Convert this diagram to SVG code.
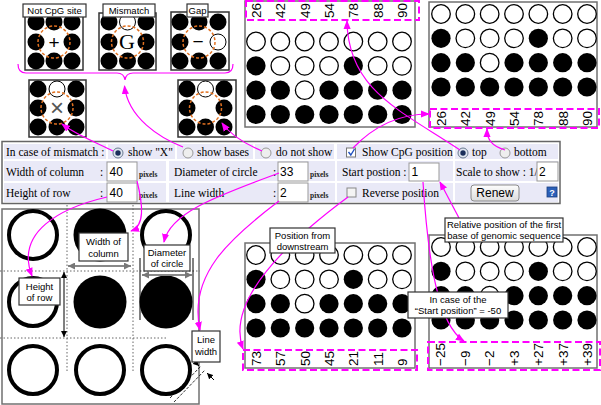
<svg xmlns="http://www.w3.org/2000/svg" width="601" height="405" viewBox="0 0 601 405">
<style>
.o{fill:#fff;stroke:#000;stroke-width:1.3}
.b{fill:#000}
.mo{fill:#fff;stroke:#000;stroke-width:1}
.frame{fill:#fff;stroke:#707070;stroke-width:1.5}
.num{font-family:"Liberation Sans",Arial,sans-serif;font-size:13.5px;fill:#000}
.dash{fill:none;stroke:#f0f;stroke-width:2;stroke-dasharray:7 3.5}
.mg{fill:none;stroke:#f0f;stroke-width:1.2}
.cb{fill:#fff;stroke:#333;stroke-width:1.2}
.ct{font-family:"Liberation Sans",Arial,sans-serif;font-size:9.5px;fill:#000;text-anchor:middle}
.mini{fill:#fff;stroke:#333;stroke-width:1.5}
.org{fill:none;stroke:#e07020;stroke-width:1.5;stroke-dasharray:3 2}
.cell{fill:#e9e9f7}
.pf{font-family:"Liberation Serif","Times New Roman",serif;font-size:11.5px;fill:#000}
.px{font-family:"Liberation Serif","Times New Roman",serif;font-size:7.5px;font-weight:bold;fill:#222}
.inp{fill:#fff;stroke:#999;stroke-width:1}
.iv{font-family:"Liberation Sans",Arial,sans-serif;font-size:12px;fill:#000}
.big{fill:#fff;stroke:#000;stroke-width:4}
.dot{stroke:#666;stroke-width:1;stroke-dasharray:1.5 2;fill:none}
.rad{fill:#eee;stroke:#999;stroke-width:1}
.rads{fill:#dfe6f0;stroke:#6a7a90;stroke-width:1}
</style>
<defs>
<marker id="ma" viewBox="0 0 10 10" refX="9" refY="5" markerWidth="9" markerHeight="9" markerUnits="userSpaceOnUse" orient="auto"><path d="M0,1 L10,5 L0,9 z" fill="#f0f"/></marker>
<marker id="ga" viewBox="0 0 10 10" refX="10" refY="5" markerWidth="7" markerHeight="7" markerUnits="userSpaceOnUse" orient="auto-start-reverse"><path d="M0,0 L10,5 L0,10 z" fill="#777"/></marker>
<marker id="ka" viewBox="0 0 10 10" refX="10" refY="5" markerWidth="6" markerHeight="6" markerUnits="userSpaceOnUse" orient="auto-start-reverse"><path d="M0,0 L10,5 L0,10 z" fill="#000"/></marker>
<linearGradient id="btn" x1="0" y1="0" x2="0" y2="1"><stop offset="0" stop-color="#fdfdfd"/><stop offset="1" stop-color="#dcdcdc"/></linearGradient>
<g id="pat">
<circle class="o" cx="0" cy="0" r="9.3"/><circle class="o" cx="24.33" cy="0" r="9.3"/><circle class="o" cx="48.67" cy="0" r="9.3"/><circle class="o" cx="73" cy="0" r="9.3"/><circle class="o" cx="97.33" cy="0" r="9.3"/><circle class="o" cx="121.67" cy="0" r="9.3"/><circle class="o" cx="146" cy="0" r="9.3"/>
<circle class="b" cx="0" cy="24.33" r="9.6"/><circle class="o" cx="24.33" cy="24.33" r="9.3"/><circle class="o" cx="48.67" cy="24.33" r="9.3"/><circle class="o" cx="73" cy="24.33" r="9.3"/><circle class="b" cx="97.33" cy="24.33" r="9.6"/><circle class="o" cx="121.67" cy="24.33" r="9.3"/><circle class="o" cx="146" cy="24.33" r="9.3"/>
<circle class="b" cx="0" cy="48.67" r="9.6"/><circle class="b" cx="24.33" cy="48.67" r="9.6"/><circle class="o" cx="48.67" cy="48.67" r="9.3"/><circle class="b" cx="73" cy="48.67" r="9.6"/><circle class="b" cx="97.33" cy="48.67" r="9.6"/><circle class="b" cx="121.67" cy="48.67" r="9.6"/><circle class="b" cx="146" cy="48.67" r="9.6"/>
<circle class="b" cx="0" cy="73" r="9.6"/><circle class="b" cx="24.33" cy="73" r="9.6"/><circle class="b" cx="48.67" cy="73" r="9.6"/><circle class="b" cx="73" cy="73" r="9.6"/><circle class="b" cx="97.33" cy="73" r="9.6"/><circle class="b" cx="121.67" cy="73" r="9.6"/><circle class="b" cx="146" cy="73" r="9.6"/>
</g>
</defs>

<!-- top-left examples -->
<g id="not-cpg">
<rect class="mini" x="25" y="12" width="58" height="58"/>
<circle class="b" cx="36" cy="22" r="8.5"/><circle class="b" cx="54" cy="22" r="8.5"/><circle class="b" cx="72" cy="22" r="8.5"/>
<circle class="b" cx="36" cy="42" r="8.5"/><circle class="b" cx="72" cy="42" r="8.5"/>
<circle class="b" cx="36" cy="61" r="8.5"/><circle class="b" cx="54" cy="61" r="8.5"/><circle class="b" cx="72" cy="61" r="8.5"/>
<circle class="org" cx="54" cy="42" r="16"/>
<text x="54" y="48.5" font-family="Liberation Sans, Arial, sans-serif" font-size="19" text-anchor="middle">+</text>
<rect class="cb" x="23" y="4" width="63" height="13"/><text class="ct" x="54.5" y="14">Not CpG site</text>
</g>
<g id="mismatch">
<rect class="mini" x="99" y="13" width="57" height="57"/>
<circle class="b" cx="109" cy="22" r="8.5"/><circle class="mo" cx="127.5" cy="22" r="8"/><circle class="b" cx="146" cy="22" r="8.5"/>
<circle class="b" cx="109" cy="42" r="8.5"/><circle class="b" cx="146" cy="42" r="8.5"/>
<circle class="b" cx="109" cy="61" r="8.5"/><circle class="b" cx="127.5" cy="61" r="8.5"/><circle class="b" cx="146" cy="61" r="8.5"/>
<circle class="org" cx="127.5" cy="42" r="16"/>
<text x="127" y="49" font-family="Liberation Serif, serif" font-size="22" text-anchor="middle">G</text>
<rect class="cb" x="103" y="4" width="52" height="13"/><text class="ct" x="129" y="14">Mismatch</text>
</g>
<g id="gap">
<rect class="mini" x="171" y="12" width="58" height="58"/>
<circle class="b" cx="180" cy="22" r="8.5"/><circle class="b" cx="199" cy="22" r="8.5"/><circle class="b" cx="218" cy="22" r="8.5"/>
<circle class="b" cx="180" cy="42" r="8.5"/><circle class="mo" cx="218" cy="42" r="8"/>
<circle class="b" cx="180" cy="61" r="8.5"/><circle class="b" cx="199" cy="61" r="8.5"/><circle class="b" cx="218" cy="61" r="8.5"/>
<circle class="org" cx="199" cy="42" r="16"/>
<text x="198" y="48" font-family="Liberation Sans, Arial, sans-serif" font-size="19" text-anchor="middle">−</text>
<rect class="cb" x="187" y="4" width="21" height="13"/><text class="ct" x="197.5" y="14">Gap</text>
</g>
<g id="show-x">
<rect class="mini" x="29" y="80" width="57" height="57"/>
<circle class="b" cx="38" cy="89" r="8.5"/><circle class="mo" cx="57" cy="89" r="8"/><circle class="b" cx="76" cy="89" r="8.5"/>
<circle class="b" cx="38" cy="108" r="8.5"/><circle class="b" cx="76" cy="108" r="8.5"/>
<circle class="b" cx="38" cy="127" r="8.5"/><circle class="b" cx="57" cy="127" r="8.5"/><circle class="b" cx="76" cy="127" r="8.5"/>
<circle class="org" cx="57" cy="108" r="16"/>
<text x="57" y="116" font-family="Liberation Sans, Arial, sans-serif" font-size="24" fill="#555" text-anchor="middle">×</text>
</g>
<g id="no-show">
<rect class="mini" x="178" y="80" width="58" height="57"/>
<circle class="b" cx="187" cy="89" r="8.5"/><circle class="mo" cx="205.5" cy="89" r="8"/><circle class="b" cx="224" cy="89" r="8.5"/>
<circle class="b" cx="187" cy="108" r="8.5"/><circle class="b" cx="224" cy="108" r="8.5"/>
<circle class="b" cx="187" cy="127" r="8.5"/><circle class="b" cx="205.5" cy="127" r="8.5"/><circle class="b" cx="224" cy="127" r="8.5"/>
<circle class="org" cx="205.5" cy="108" r="16"/>
</g>

<!-- top middle: numbers on top -->
<g id="panel-top">
<rect class="frame" x="245" y="1" width="170" height="126"/>
<use href="#pat" x="256" y="41.5"/>
<text class="num" transform="translate(261,18) rotate(-90)">26</text>
<text class="num" transform="translate(285,18) rotate(-90)">42</text>
<text class="num" transform="translate(310,18) rotate(-90)">49</text>
<text class="num" transform="translate(334,18) rotate(-90)">54</text>
<text class="num" transform="translate(358,18) rotate(-90)">78</text>
<text class="num" transform="translate(383,18) rotate(-90)">88</text>
<text class="num" transform="translate(407,18) rotate(-90)">90</text>
<rect class="dash" x="246" y="1" width="173" height="19"/>
</g>
<!-- top right: numbers at bottom -->
<g id="panel-bottom">
<rect class="frame" x="429" y="2" width="168" height="125"/>
<use href="#pat" x="441" y="14"/>
<text class="num" transform="translate(446,126) rotate(-90)">26</text>
<text class="num" transform="translate(470,126) rotate(-90)">42</text>
<text class="num" transform="translate(495,126) rotate(-90)">49</text>
<text class="num" transform="translate(519,126) rotate(-90)">54</text>
<text class="num" transform="translate(543,126) rotate(-90)">78</text>
<text class="num" transform="translate(568,126) rotate(-90)">88</text>
<text class="num" transform="translate(592,126) rotate(-90)">90</text>
<rect class="dash" x="430" y="109" width="169" height="19"/>
</g>
<!-- bottom middle: reverse -->
<g id="panel-reverse">
<rect class="frame" x="245" y="243" width="170" height="125"/>
<use href="#pat" x="256" y="255"/>
<text class="num" transform="translate(261,366) rotate(-90)">73</text>
<text class="num" transform="translate(285,366) rotate(-90)">57</text>
<text class="num" transform="translate(310,366) rotate(-90)">50</text>
<text class="num" transform="translate(334,366) rotate(-90)">45</text>
<text class="num" transform="translate(358,366) rotate(-90)">21</text>
<text class="num" transform="translate(383,366) rotate(-90)">11</text>
<text class="num" transform="translate(407,366) rotate(-90)">9</text>
<rect class="dash" x="243" y="350" width="174" height="20"/>
</g>
<!-- bottom right: start -50 -->
<g id="panel-start">
<rect class="frame" x="429" y="235" width="168" height="133"/>
<use href="#pat" x="441" y="247"/>
<text class="num" transform="translate(445,366) rotate(-90)">−25</text>
<text class="num" transform="translate(470,366) rotate(-90)">−9</text>
<text class="num" transform="translate(494,366) rotate(-90)">−2</text>
<text class="num" transform="translate(519,366) rotate(-90)">+3</text>
<text class="num" transform="translate(543,366) rotate(-90)">+27</text>
<text class="num" transform="translate(568,366) rotate(-90)">+37</text>
<text class="num" transform="translate(592,366) rotate(-90)">+39</text>
<rect class="dash" x="428" y="342" width="172" height="28"/>
</g>

<!-- bottom left: geometry -->
<g id="geometry">
<rect class="frame" x="2" y="209" width="197" height="195"/>
<line class="dot" x1="67" y1="205" x2="67" y2="372"/>
<line class="dot" x1="133" y1="205" x2="133" y2="372"/>
<line class="dot" x1="0" y1="271" x2="200" y2="271"/>
<line class="dot" x1="0" y1="338" x2="168" y2="338"/>
<circle class="big" cx="33" cy="235" r="24"/>
<circle class="b" cx="100" cy="235" r="26.5"/>
<circle class="big" cx="166" cy="235" r="24"/>
<circle class="big" cx="33" cy="302" r="24"/>
<circle class="b" cx="100" cy="302" r="26.5"/>
<circle class="b" cx="166" cy="302" r="26.5"/>
<circle class="big" cx="33" cy="370" r="24"/>
<circle class="big" cx="100" cy="370" r="24"/>
<circle class="big" cx="166" cy="370" r="24"/>
<line x1="68" y1="266" x2="131" y2="266" stroke="#888" stroke-width="2" marker-start="url(#ga)" marker-end="url(#ga)"/>
<line x1="64" y1="272" x2="64" y2="337" stroke="#000" stroke-width="1" marker-start="url(#ka)" marker-end="url(#ka)"/>
<line x1="140" y1="258" x2="140" y2="320" stroke="#000" stroke-width="1"/>
<line x1="193" y1="258" x2="193" y2="320" stroke="#000" stroke-width="1"/>
<line x1="142" y1="275" x2="192" y2="275" stroke="#888" stroke-width="2" marker-start="url(#ga)" marker-end="url(#ga)"/>
<line x1="170" y1="398" x2="201" y2="366" stroke="#000" stroke-width="0.8" stroke-dasharray="3 1.5"/>
<line x1="174" y1="402" x2="205" y2="370" stroke="#000" stroke-width="0.8" stroke-dasharray="3 1.5"/>
<line x1="214" y1="380" x2="207" y2="373" stroke="#000" stroke-width="1" marker-end="url(#ka)"/>
<line x1="193" y1="360" x2="199" y2="366" stroke="#000" stroke-width="1" marker-end="url(#ka)"/>
</g>

<!-- control panel -->
<g id="control-panel">
<rect x="2" y="141.5" width="558" height="62" fill="#fff" stroke="#666" stroke-width="1.5"/>
<rect class="cell" x="4" y="144" width="102" height="15"/>
<rect class="cell" x="108" y="144" width="67" height="15"/>
<rect class="cell" x="177" y="144" width="76" height="15"/>
<rect class="cell" x="255" y="144" width="79" height="15"/>
<rect class="cell" x="337" y="144" width="116" height="15"/>
<rect class="cell" x="455" y="144" width="103" height="15"/>
<rect class="cell" x="4" y="161" width="162" height="20"/>
<rect class="cell" x="169" y="161" width="166" height="20"/>
<rect class="cell" x="337" y="161" width="116" height="20"/>
<rect class="cell" x="455" y="161" width="103" height="20"/>
<rect class="cell" x="4" y="183" width="162" height="19"/>
<rect class="cell" x="169" y="183" width="166" height="19"/>
<rect class="cell" x="337" y="183" width="116" height="19"/>
<rect class="cell" x="455" y="183" width="103" height="19"/>

<text class="pf" x="6" y="156">In case of mismatch :</text>
<circle class="rads" cx="118" cy="153" r="5"/><circle cx="118" cy="153" r="2.7" fill="#1a2e5a"/>
<text class="pf" x="128" y="156">show "X"</text>
<circle class="rad" cx="188" cy="153" r="5"/>
<text class="pf" x="197" y="156">show bases</text>
<circle class="rad" cx="266" cy="153" r="5"/>
<text class="pf" x="276" y="156">do not show</text>
<rect x="346.5" y="148" width="9" height="9" fill="#fff" stroke="#777"/>
<path d="M348.5,152 L350.8,155 L354.5,149" fill="none" stroke="#2050c0" stroke-width="1.4"/>
<text class="pf" x="362" y="156">Show CpG position</text>
<circle class="rads" cx="463" cy="153" r="5"/><circle cx="463" cy="153" r="2.7" fill="#1a2e5a"/>
<text class="pf" x="472" y="156">top</text>
<circle class="rad" cx="505" cy="153" r="5"/>
<text class="pf" x="514" y="156">bottom</text>

<text class="pf" x="6" y="176">Width of column</text>
<text class="pf" x="100" y="176">:</text>
<rect class="inp" x="107" y="162" width="30" height="19"/>
<text class="iv" x="109.5" y="176">40</text>
<text class="px" x="139" y="177">pixels</text>
<text class="pf" x="174" y="176">Diameter of circle</text>
<text class="pf" x="273" y="176">:</text>
<rect class="inp" x="278" y="162" width="30" height="19"/>
<text class="iv" x="280" y="176">33</text>
<text class="px" x="310" y="177">pixels</text>
<text class="pf" x="342" y="176">Start postion :</text>
<rect class="inp" x="409" y="163" width="30" height="18"/>
<text class="iv" x="411.5" y="176">1</text>
<text class="pf" x="456" y="176" font-size="11">Scale to show : 1/</text>
<rect class="inp" x="537" y="162" width="21" height="19"/>
<text class="iv" x="539" y="176">2</text>

<text class="pf" x="6" y="197">Height of row</text>
<text class="pf" x="100" y="197">:</text>
<rect class="inp" x="107" y="183" width="30" height="19"/>
<text class="iv" x="109.5" y="197">40</text>
<text class="px" x="139" y="198">pixels</text>
<text class="pf" x="174" y="197">Line width</text>
<text class="pf" x="273" y="197">:</text>
<rect class="inp" x="278" y="183" width="30" height="19"/>
<text class="iv" x="280" y="197">2</text>
<text class="px" x="310" y="198">pixels</text>
<rect x="347" y="188" width="9" height="9" fill="#f4f4f4" stroke="#888"/>
<text class="pf" x="362" y="197">Reverse position</text>
<rect x="471" y="185" width="48" height="16" rx="3" fill="url(#btn)" stroke="#8a8a8a"/>
<text class="iv" x="495" y="197" text-anchor="middle">Renew</text>
<rect x="547" y="187" width="10" height="10" fill="#2b5fb8" stroke="#1a3f80" stroke-width="0.8"/>
<text x="552" y="195.5" font-family="Liberation Sans, Arial, sans-serif" font-size="9" font-weight="bold" fill="#fff" text-anchor="middle">?</text>
</g>

<!-- connectors -->
<g id="connectors">
<path class="mg" d="M18,64 Q18,73 26,73 L117,73 Q124,73 125,80 Q126,73 133,73 L225,73 Q233,73 233,64"/>
<path class="mg" d="M113,151 C100,144 78,136 62,124" marker-end="url(#ma)"/>
<path class="mg" d="M183,147 C160,138 128,118 124.5,86" marker-end="url(#ma)"/>
<path class="mg" d="M262,151 C250,146 232,137 222,123" marker-end="url(#ma)"/>
<path class="mg" d="M137,181 C143,205 145,226 131,231" marker-end="url(#ma)"/>
<path class="mg" d="M107,197 C60,208 15,232 32,276" marker-end="url(#ma)"/>
<path class="mg" d="M279,173 C220,195 170,212 164,242" marker-end="url(#ma)"/>
<path class="mg" d="M279,201 C230,238 188,275 200,330" marker-end="url(#ma)"/>
<path class="mg" d="M348,197 C290,240 225,300 243,349" marker-end="url(#ma)"/>
<path class="mg" d="M459,218 L440,182" marker-end="url(#ma)"/>
<path class="mg" d="M423,182 C428,260 438,325 464,341" marker-end="url(#ma)"/>
<path class="mg" d="M460,150 C400,110 348,90 347,21" marker-end="url(#ma)"/>
<path class="mg" d="M353,148 C375,125 400,114 429,114" marker-end="url(#ma)"/>
<path class="mg" d="M505,150 C492,146 487,140 487,129" marker-end="url(#ma)"/>
</g>

<!-- callout labels -->
<g id="lbl-width"><rect class="cb" x="79" y="233" width="49" height="28"/><text class="ct" x="103.5" y="245">Width of</text><text class="ct" x="103.5" y="256.5">column</text></g>
<g id="lbl-height"><rect class="cb" x="19" y="278" width="41" height="27"/><text class="ct" x="39.5" y="290">Height</text><text class="ct" x="39.5" y="301">of row</text></g>
<g id="lbl-diameter"><rect class="cb" x="144" y="245" width="46" height="26"/><text class="ct" x="167" y="256">Diameter</text><text class="ct" x="167" y="267">of circle</text></g>
<g id="lbl-linewidth"><rect class="cb" x="192" y="331" width="28" height="31"/><text class="ct" x="206" y="343">Line</text><text class="ct" x="206" y="355">width</text></g>
<g id="lbl-downstream"><rect class="cb" x="270" y="228" width="65" height="25"/><text class="ct" x="302.5" y="239">Position from</text><text class="ct" x="302.5" y="250">downstream</text></g>
<g id="lbl-relative"><rect class="cb" x="445" y="218" width="118" height="24"/><text class="ct" x="504" y="228">Relative position of the first</text><text class="ct" x="504" y="239">base of genomic sequence</text></g>
<g id="lbl-start"><rect class="cb" x="408" y="292" width="100" height="26"/><text class="ct" x="458" y="303">In case of the</text><text class="ct" x="458" y="314">“Start position” = -50</text></g>
</svg>
